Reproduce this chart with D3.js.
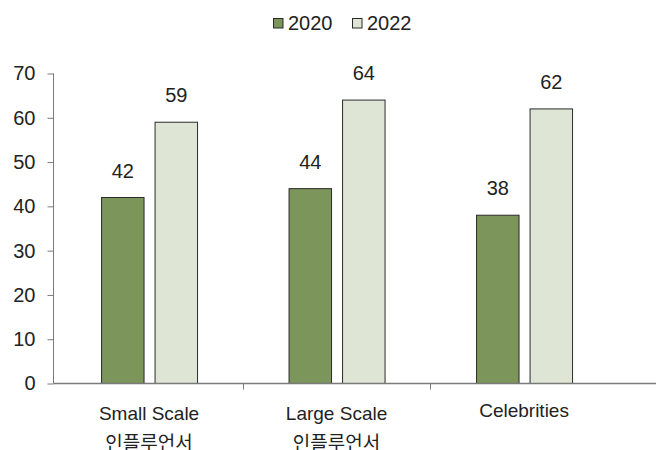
<!DOCTYPE html>
<html>
<head>
<meta charset="utf-8">
<script src="https://cdn.jsdelivr.net/npm/d3@7/dist/d3.min.js"></script>
<style>
  html, body { margin: 0; padding: 0; background: #fff; }
  svg { display: block; font-family: "Liberation Sans", Arial, "Noto Sans CJK KR", sans-serif; }
</style>
</head>
<body>
<svg id="chart" width="656" height="450"></svg>
<script>
// Influencer categories (label lines) and survey values per year
const categories = ["Small Scale\n인플루언서", "Large Scale\n인플루언서", "Celebrities"];
const series = ["2020", "2022"];
const values2020 = [42, 44, 38];
const values2022 = [59, 64, 62];
const yTicks = [0, 10, 20, 30, 40, 50, 60, 70];

const colors = { "2020": "#7b955a", "2022": "#dfe5d4" };
const valuesBySeries = { "2020": values2020, "2022": values2022 };

const svg = d3.select("#chart");

const x0 = d3.scaleBand().domain(categories).range([55.3, 617.8]).paddingInner(0).paddingOuter(0);
const y = d3.scaleLinear().domain([0, 70]).range([383.5, 73.5]);

const axisColor = "#7a7a7a";

// Y axis
const yAxis = svg.append("g").attr("transform", "translate(53.5,0)")
  .call(d3.axisLeft(y).tickValues(yTicks).tickSize(6).tickPadding(12).tickFormat(d3.format("d")));
yAxis.select(".domain").attr("stroke", axisColor).attr("d", `M0,${y(70)}V${y(0)}`);
yAxis.selectAll(".tick line").attr("stroke", axisColor);
yAxis.selectAll(".tick text").attr("fill", "#222").style("font-size", "20px")
  .style("font-family", "'Liberation Sans', Arial, sans-serif");

// Bars per group
const groupWidth = 96;
const x1 = d3.scaleBand().domain(series).range([0, groupWidth]).paddingInner(0.206);

const groups = svg.append("g").selectAll("g")
  .data(categories.map((c, i) => ({ c, i })))
  .join("g")
  .attr("transform", d => `translate(${x0(d.c) + x0.bandwidth() / 2 - groupWidth / 2},0)`);

groups.selectAll("rect")
  .data(d => series.map(s => ({ s, v: valuesBySeries[s][d.i] })))
  .join("rect")
  .attr("x", d => x1(d.s) + 0.5)
  .attr("y", d => y(d.v))
  .attr("width", x1.bandwidth())
  .attr("height", d => y(0) - y(d.v))
  .attr("fill", d => colors[d.s])
  .attr("stroke", "#2b2b2b")
  .attr("stroke-width", 1);

groups.selectAll("text.val")
  .data(d => series.map(s => ({ s, v: valuesBySeries[s][d.i] })))
  .join("text")
  .attr("class", "val")
  .attr("x", d => x1(d.s) + x1.bandwidth() / 2 + 0.5)
  .attr("y", d => y(d.v) - 20)
  .attr("text-anchor", "middle")
  .attr("fill", "#222")
  .style("font-size", "20px")
  .text(d => d.v);

// X axis line with category separators
const xAxisG = svg.append("g");
xAxisG.append("line")
  .attr("x1", 53.5).attr("x2", 656).attr("y1", y(0)).attr("y2", y(0))
  .attr("stroke", axisColor).attr("stroke-width", 1.3);
const sepTicks = categories.slice(1).map(c => x0(c)).concat([655.5]);
xAxisG.selectAll("line.sep").data(sepTicks).join("line")
  .attr("class", "sep")
  .attr("x1", d => Math.round(d) + 0.5).attr("x2", d => Math.round(d) + 0.5)
  .attr("y1", y(0)).attr("y2", y(0) + 6)
  .attr("stroke", axisColor);

// Category labels (possibly two lines)
const catLabels = xAxisG.selectAll("text.cat").data(categories).join("text")
  .attr("class", "cat")
  .attr("x", d => x0(d) + x0.bandwidth() / 2)
  .attr("y", d => d.includes("\n") ? 420 : 417)
  .attr("text-anchor", "middle")
  .attr("fill", "#222")
  .style("font-size", "19px");
catLabels.each(function(d) {
  const lines = d.split("\n");
  d3.select(this).selectAll("tspan").data(lines).join("tspan")
    .attr("x", x0(d) + x0.bandwidth() / 2)
    .attr("dy", (l, i) => i === 0 ? 0 : 30)
    .text(l => l);
});

// Legend
const legendItems = [
  { s: "2020", box: 273.5, text: 288 },
  { s: "2022", box: 352.5, text: 367 }
];
const legend = svg.append("g");
legend.selectAll("rect").data(legendItems).join("rect")
  .attr("x", d => d.box).attr("y", 18.5)
  .attr("width", 9.5).attr("height", 9.5)
  .attr("fill", d => colors[d.s])
  .attr("stroke", "#2b2b2b");
legend.selectAll("text").data(legendItems).join("text")
  .attr("x", d => d.text).attr("y", 29.5)
  .attr("fill", "#222")
  .style("font-size", "20px")
  .text(d => d.s);
</script>
</body>
</html>
